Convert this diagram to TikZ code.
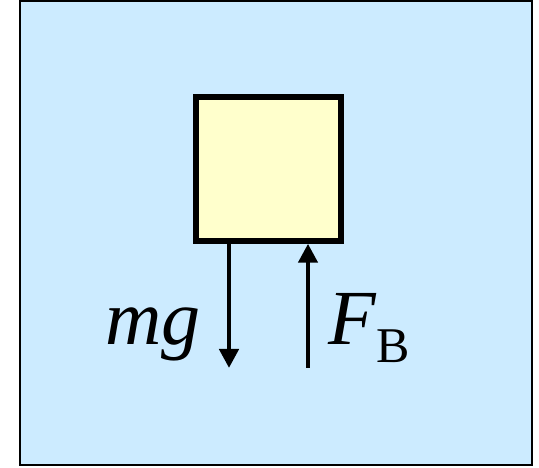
\documentclass[tikz,border=0pt]{standalone}
\usepackage{fontspec}
\setmainfont{Liberation Serif}
\usepackage{xcolor}
\definecolor{water}{HTML}{CCEBFF}
\definecolor{blockyellow}{HTML}{FFFFCC}
\usetikzlibrary{arrows.meta, positioning}

\begin{document}
\begin{tikzpicture}[x=1pt, y=1pt,
  force/.style={line width=4.5pt, -{Triangle[length=19pt, width=19pt]}},
  biglabel/.style={inner sep=0pt, font=\fontsize{78}{78}\selectfont}]
\useasboundingbox (0,0) rectangle (539,468);
\draw[fill=water, line width=2.5pt] (20,3) rectangle (532,467);
\node[draw, fill=blockyellow, line width=5.5pt, inner sep=0pt,
  minimum width=145pt, minimum height=144pt] (block) at (268.5,299) {};
\coordinate (mgend) at (229,100);
\coordinate (fbstart) at (308,100);
\draw[force] (block.south -| mgend) -- (mgend);
\draw[force] (fbstart) -- (block.south -| fbstart);
\node[biglabel, anchor=base east] (mglabel) at (201,123) {\textit{mg}};
\node[biglabel, anchor=base west] (fblabel) at (328,123)
  {\textit{F}\raisebox{-18pt}{\fontsize{50}{50}\selectfont B}};
\end{tikzpicture}
\end{document}
